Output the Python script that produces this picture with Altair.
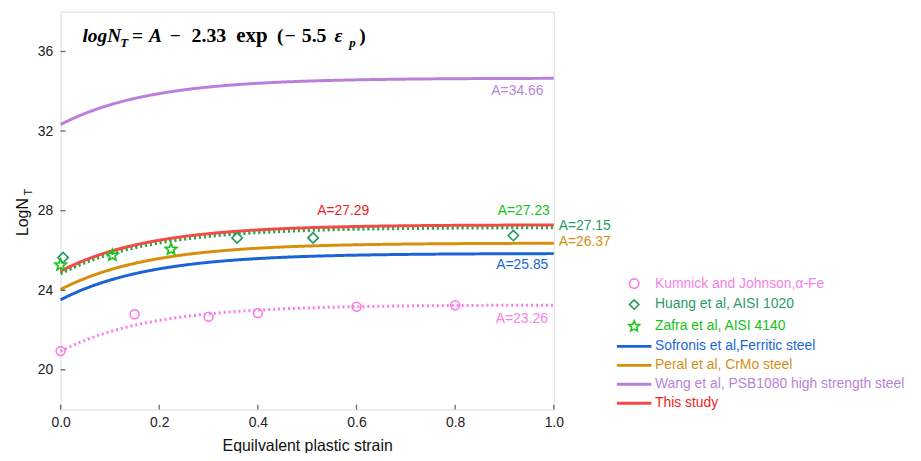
import altair as alt
import pandas as pd
import numpy as np

# ---------------- data ----------------
series = [
    "Kumnick and Johnson,α-Fe",
    "Huang et al, AISI 1020",
    "Zafra et al, AISI 4140",
    "Sofronis et al,Ferritic steel",
    "Peral et al, CrMo steel",
    "Wang et al, PSB1080 high strength steel",
    "This study",
]
line_colors = ["#fb7be8", "#1e9a5a", "#1fc41f", "#1a63d8", "#d8900c", "#b880dc", "#f54848"]
label_colors = ["#f77fe6", "#2a9a66", "#19c019", "#1a66d6", "#d38f14", "#b884da", "#f01e1e"]
fit_A = [23.26, 27.15, 27.23, 25.85, 26.37, 34.66, 27.29]
line_style = ["dotted", "dotted", "dotted", "solid", "solid", "solid", "solid"]
draw_order = [5, 3, 4, 0, 1, 2, 6]

kum_x = [0.0, 0.15, 0.30, 0.40, 0.60, 0.80]
kum_y = [20.94, 22.79, 22.67, 22.85, 23.17, 23.25]
huang_x = [0.005, 0.358, 0.512, 0.918]
huang_y = [25.64, 26.63, 26.63, 26.75]
zafra_x = [0.0, 0.105, 0.224]
zafra_y = [25.27, 25.76, 26.06]

ann_text = ["A=34.66", "A=27.29", "A=27.23", "A=27.15", "A=26.37", "A=25.85", "A=23.26"]
ann_x = [0.979, 0.573, 0.992, 1.010, 1.010, 0.989, 0.988]
ann_y = [34.02, 28.00, 27.96, 27.25, 26.44, 25.28, 22.54]
ann_align = ["right", "center", "right", "left", "left", "right", "right"]
ann_color = ["#b884da", "#f01e1e", "#19c019", "#2a9a66", "#d38f14", "#1a66d6", "#f77fe6"]

x_ticks = [0.0, 0.2, 0.4, 0.6, 0.8, 1.0]
y_ticks = [20, 24, 28, 32, 36]

# formula text pieces
formula_parts = ["logN", "T", "=", "A", "−", "2.33", "exp", "(", "−", "5.5", "ε", "p", ")"]
formula_italic = [True, True, False, True, False, False, False, False, False, False, True, True, False]
formula_sub = [False, True, False, False, False, False, False, False, False, False, False, True, False]
formula_px = [22, 60, 72, 89, 110, 132, 177, 218, 226, 243, 276, 291, 301]
formula_fs = [19.5, 13, 19.5, 19.5, 19.5, 20, 21, 19.5, 19.5, 20, 19.5, 13, 19.5]

# ---------------- tables ----------------
x_grid = np.linspace(0, 1, 101)
rows = []
for i in draw_order:
    for xv in x_grid:
        rows.append({"series": series[i], "x": float(xv),
                     "y": fit_A[i] - 2.33 * np.exp(-5.5 * xv), "style": line_style[i]})
curves = pd.DataFrame(rows)
kum = pd.DataFrame({"x": kum_x, "y": kum_y})
huang = pd.DataFrame({"x": huang_x, "y": huang_y})
zafra = pd.DataFrame({"x": zafra_x, "y": zafra_y})
ann = pd.DataFrame({"text": ann_text, "x": ann_x, "y": ann_y, "align": ann_align, "color": ann_color})
fdf = pd.DataFrame({"t": formula_parts, "it": formula_italic, "sub": formula_sub,
                    "px": formula_px, "fs": formula_fs})
fdf["py"] = np.where(fdf["sub"], 36, 31)
xt = pd.DataFrame({"v": x_ticks})
yt = pd.DataFrame({"v": y_ticks})

STAR = ("M0,-1.2L0.32,-0.44L1.14,-0.37L0.53,0.17L0.71,0.97L0,0.56L-0.71,0.97"
        "L-0.53,0.17L-1.14,-0.37L-0.32,-0.44Z")
BAR = "M-3.5,-0.14L3.5,-0.14L3.5,0.14L-3.5,0.14Z"
FONT = "Liberation Sans"

xs = alt.Scale(domain=[0, 1], nice=False)
ys = alt.Scale(domain=[18, 38], nice=False)


def js_list(vals):
    return "[" + ",".join("'" + str(v) + "'" for v in vals) + "]"


idx = "indexof(" + js_list(series) + ", datum.label)"
sym_shapes = ["circle", "diamond", STAR, BAR, BAR, BAR, BAR]

legend = alt.Legend(
    title=None, orient="none", legendX=571, legendY=267, padding=0,
    symbolType={"expr": js_list(sym_shapes) + "[" + idx + "]"},
    symbolStrokeWidth=1.6, symbolSize=90, symbolFillColor="transparent", symbolOpacity=1,
    labelColor={"expr": js_list(label_colors) + "[" + idx + "]"},
    labelFont=FONT, labelFontSize=14, labelOffset=14, labelLimit=400, rowPadding=5.1,
)

label_x_axis = alt.Axis(orient="bottom", values=x_ticks, format=".1f", ticks=False, tickSize=0,
                        domain=False, grid=False, labelFlush=False, labelFont=FONT,
                        labelFontSize=14, labelColor="#222", labelPadding=6,
                        title="Equilvalent plastic strain", titleFont=FONT, titleFontSize=16,
                        titleFontWeight="normal", titleColor="#111", titlePadding=8)
label_y_axis = alt.Axis(orient="left", values=y_ticks, ticks=False, tickSize=0, domain=False,
                        grid=False, labelFlush=False, labelFont=FONT, labelFontSize=14,
                        labelColor="#222", labelPadding=8, title=None)

lines = alt.Chart(curves).mark_line(strokeWidth=3).encode(
    x=alt.X("x:Q", scale=xs, axis=label_x_axis),
    y=alt.Y("y:Q", scale=ys, axis=label_y_axis),
    color=alt.Color("series:N", scale=alt.Scale(domain=series, range=line_colors),
                    sort=series, legend=legend),
    strokeDash=alt.StrokeDash("style:N", scale=alt.Scale(domain=["solid", "dotted"],
                                                         range=[[1, 0], [2, 3]]), legend=None),
    detail="series:N",
)

kum_pts = alt.Chart(kum).mark_point(shape="circle", filled=False, size=81, strokeWidth=1.6,
                                    color=line_colors[0], opacity=1).encode(
    x=alt.X("x:Q", scale=xs, axis=None),
    y=alt.Y("y:Q", scale=ys, axis=None),
)
huang_pts = alt.Chart(huang).mark_point(shape="diamond", filled=False, size=110, strokeWidth=1.6,
                                        color=line_colors[1], opacity=1).encode(
    x=alt.X("x:Q", scale=xs, axis=None),
    y=alt.Y("y:Q", scale=ys, axis=None),
)
zafra_pts = alt.Chart(zafra).mark_point(shape=STAR, filled=False, size=100, strokeWidth=1.8,
                                        color=line_colors[2], opacity=1).encode(
    x=alt.X("x:Q", scale=xs, axis=None),
    y=alt.Y("y:Q", scale=ys, axis=None),
)

x_tick_marks = alt.Chart(xt).mark_tick(color="#333", thickness=1.4, size=5).encode(
    x=alt.X("v:Q", scale=xs, axis=None), y=alt.value(398.5))
y_tick_marks = alt.Chart(yt).mark_tick(color="#333", thickness=1.4, size=5).encode(
    y=alt.Y("v:Q", scale=ys, axis=None), x=alt.value(2.5))

ann_layers = []
for al in ["left", "center", "right"]:
    ann_layers.append(
        alt.Chart(ann).transform_filter(alt.datum.align == al)
        .mark_text(align=al, baseline="middle", font=FONT, fontSize=14)
        .encode(x=alt.X("x:Q", scale=xs, axis=None), y=alt.Y("y:Q", scale=ys, axis=None),
                text="text:N", color=alt.Color("color:N", scale=None, legend=None))
    )

formula_layers = []
for italic in [True, False]:
    formula_layers.append(
        alt.Chart(fdf).transform_filter(alt.datum.it == italic)
        .mark_text(align="left", baseline="alphabetic", font="Liberation Serif",
                   fontStyle="italic" if italic else "normal", fontWeight="bold", color="#000")
        .encode(x=alt.X("px:Q", scale=None, axis=None), y=alt.Y("py:Q", scale=None, axis=None),
                text="t:N", size=alt.Size("fs:Q", scale=None, legend=None))
    )

ytitle_parts = ["LogN", "T"]
ytitle_px = [-33, -29]
ytitle_py = [207, 182]
ytitle_fs = [16, 11]
ydf = pd.DataFrame({"t": ytitle_parts, "px": ytitle_px, "py": ytitle_py, "fs": ytitle_fs})
ytitle = alt.Chart(ydf).mark_text(align="center", baseline="alphabetic", angle=270,
                                  font=FONT, color="#111").encode(
    x=alt.X("px:Q", scale=None, axis=None), y=alt.Y("py:Q", scale=None, axis=None),
    text="t:N", size=alt.Size("fs:Q", scale=None, legend=None),
)

chart = alt.layer(lines, kum_pts, huang_pts, zafra_pts, x_tick_marks, y_tick_marks,
                  *ann_layers, *formula_layers, ytitle).resolve_axis(
    x="independent", y="independent"
).properties(
    width=497, height=401,
    autosize=alt.AutoSizeParams(type="none"),
    padding={"left": 53, "top": 2, "right": 362, "bottom": 42},
).configure_view(
    stroke="#333", strokeWidth=1.5
).configure(background="white")

chart.save("out.html", embed_options={"renderer": "svg", "actions": False})
